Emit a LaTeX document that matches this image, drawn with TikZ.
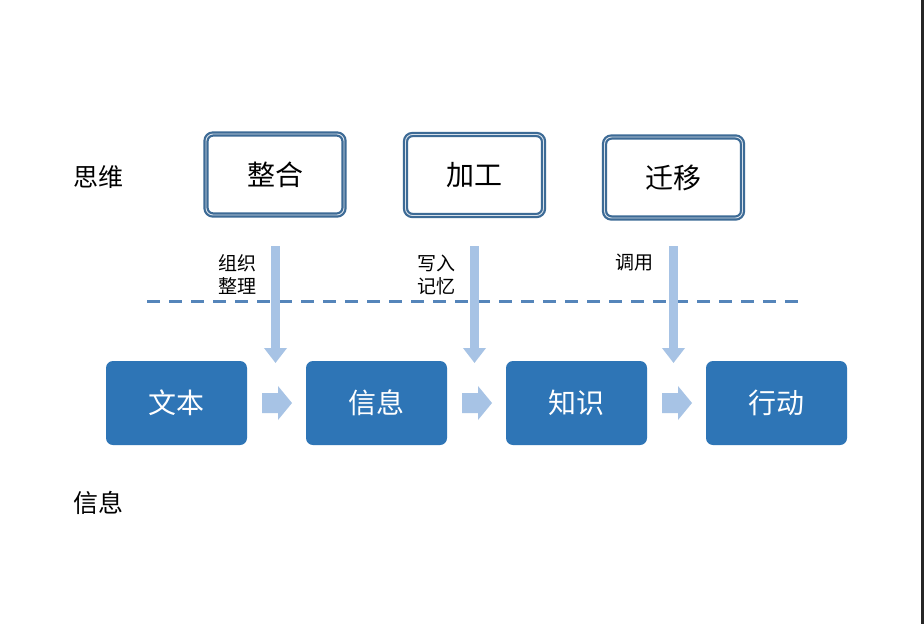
\documentclass[tikz,border=0pt]{standalone}
\usepackage{fontspec}
\setmainfont{Noto Sans CJK SC}
\usetikzlibrary{arrows.meta}
\definecolor{boxblue}{HTML}{2E75B6}
\definecolor{edgeblue}{HTML}{3D6B96}
\definecolor{lightarrow}{HTML}{A7C3E5}
\definecolor{dashblue}{HTML}{5585BA}
\begin{document}
\begin{tikzpicture}[x=1pt,y=-1pt,
  thinkbox/.style={draw=edgeblue,double=white!80!edgeblue,double distance=0.9pt,line width=2.2pt,rounded corners=7pt,minimum width=138pt,minimum height=81pt,inner sep=0pt,font=\fontsize{28}{30}\selectfont},
  infobox/.style={fill=boxblue,rounded corners=7pt,minimum width=141pt,minimum height=84pt,inner sep=0pt,text=white,font=\fontsize{28}{30}\selectfont},
  sidelabel/.style={font=\fontsize{25}{27}\selectfont,inner sep=0pt},
  smalllabel/.style={font=\fontsize{19}{23}\selectfont,align=left,inner sep=0pt},
  chevfill/.style={fill=lightarrow},
  downarrow/.style={draw=lightarrow,line width=9pt,-{Triangle[width=22pt,length=15pt]}}
]
\useasboundingbox (0,0) rectangle (924,624);
\fill[white] (0,0) rectangle (924,624);
\fill[black!85] (921,0) rectangle (924,624);

\node[thinkbox] (zh) at (275,174.5) {整合};
\node[thinkbox] (jg) at (474.5,175) {加工};
\node[thinkbox] (qy) at (673.5,177.5) {迁移};

\node[infobox] (wb) at (176.5,403) {文本};
\node[infobox] (xx) at (376.5,403) {信息};
\node[infobox] (zs) at (576.5,403) {知识};
\node[infobox] (xd) at (776.5,403) {行动};

\node[sidelabel] (sw) at (98,177) {思维};
\node[sidelabel] (xxl) at (98,503) {信息};

\coordinate (dl) at (147,301);
\coordinate (dr) at (803,301);
\draw[dashblue,line width=3pt,dash pattern=on 13pt off 9pt] (dl) -- (dr);

\coordinate (a1s) at (275.5,246);
\coordinate (a1e) at (275.5,363);
\coordinate (a2s) at (474.5,246);
\coordinate (a2e) at (474.5,363);
\coordinate (a3s) at (673.5,246);
\coordinate (a3e) at (673.5,363);
\draw[downarrow] (a1s) -- (a1e);
\draw[downarrow] (a2s) -- (a2e);
\draw[downarrow] (a3s) -- (a3e);

\node[smalllabel] (l1) at (237,275) {组织\\整理};
\node[smalllabel] (l2) at (436,275) {写入\\记忆};
\node[smalllabel] (l3) at (634,263) {调用};

\foreach \cx in {262,462,662}{
  \fill[chevfill] (\cx,393) -- ++(16,0) -- ++(0,-7) -- ++(14,17) -- ++(-14,17) -- ++(0,-7) -- ++(-16,0) -- cycle;
}
\end{tikzpicture}
\end{document}
